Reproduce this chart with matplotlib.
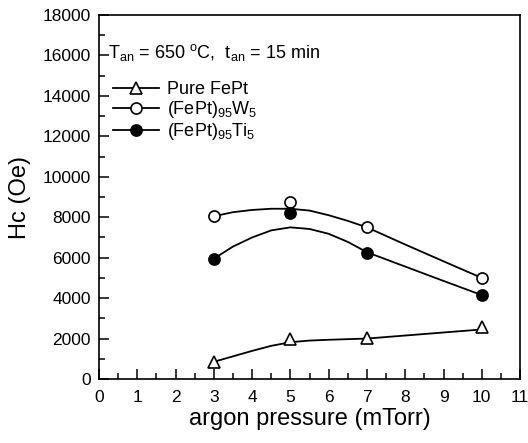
import matplotlib
matplotlib.use("Agg")
import matplotlib.pyplot as plt
from matplotlib.ticker import MultipleLocator

plt.rcParams["font.family"] = ["Liberation Sans", "DejaVu Sans"]
plt.rcParams["mathtext.fontset"] = "custom"
plt.rcParams["mathtext.rm"] = "Liberation Sans"
plt.rcParams["mathtext.it"] = "Liberation Sans"
plt.rcParams["mathtext.default"] = "regular"

# measured points
pressure = [3, 5, 7, 10]
hc_pure = [850, 2000, 2030, 2550]
hc_w5 = [8050, 8750, 7520, 5000]
hc_ti5 = [5950, 8230, 6230, 4150]

# guide curves
curve_x = [3, 3.5, 4, 4.5, 5, 5.5, 6, 6.5, 7, 8, 9, 10]
curve_pure = [850, 1120, 1390, 1640, 1820, 1900, 1940, 1970, 2000, 2150, 2300, 2450]
curve_w5 = [8050, 8250, 8360, 8420, 8420, 8330, 8100, 7820, 7500, 6650, 5820, 5000]
curve_ti5 = [5950, 6550, 7000, 7350, 7500, 7420, 7180, 6780, 6270, 5560, 4850, 4150]

labels = ["Pure FePt", r"(FePt)$_{95}$W$_5$", r"(FePt)$_{95}$Ti$_5$"]

fig = plt.figure(figsize=(5.28, 4.43), dpi=100)
ax = fig.add_axes([0.1875, 0.1445, 0.7975, 0.8215])

lw = 1.3
ax.plot(curve_x, curve_pure, color="black", lw=lw)
ax.plot(curve_x, curve_w5, color="black", lw=lw)
ax.plot(curve_x, curve_ti5, color="black", lw=lw)

mk = dict(linestyle="none", markeredgecolor="black", markeredgewidth=1.2, zorder=5)
ax.plot(pressure, hc_pure, marker="^", markersize=9, markerfacecolor="white", **mk)
ax.plot(pressure, hc_w5, marker="o", markersize=8, markerfacecolor="white", **mk)
ax.plot(pressure, hc_ti5, marker="o", markersize=8, markerfacecolor="black", **mk)

# legend handles: line through marker
h1, = ax.plot([], [], color="black", lw=lw, marker="^", markersize=9, markerfacecolor="white", markeredgewidth=1.2)
h2, = ax.plot([], [], color="black", lw=lw, marker="o", markersize=8, markerfacecolor="white", markeredgewidth=1.2)
h3, = ax.plot([], [], color="black", lw=lw, marker="o", markersize=8, markerfacecolor="black", markeredgewidth=1.2)
ax.legend([h1, h2, h3], labels, loc="upper left", bbox_to_anchor=(0.015, 0.838),
          frameon=False, fontsize=13, handlelength=2.6, handletextpad=0.4,
          labelspacing=0.05, borderaxespad=0)

ax.text(0.022, 0.897, r"T$_{an}$ = 650 $^{o}$C,  t$_{an}$ = 15 min",
        transform=ax.transAxes, fontsize=13, va="center", ha="left")

ax.set_xlim(0, 11)
ax.set_ylim(0, 18000)
ax.xaxis.set_major_locator(MultipleLocator(1))
ax.xaxis.set_minor_locator(MultipleLocator(0.5))
ax.yaxis.set_major_locator(MultipleLocator(2000))
ax.yaxis.set_minor_locator(MultipleLocator(1000))
ax.tick_params(which="both", direction="in", top=False, right=False, width=1.1)
ax.tick_params(which="major", length=7, labelsize=12.5)
ax.tick_params(axis="y", which="major", pad=6)
ax.tick_params(axis="x", which="major", pad=8)
ax.tick_params(which="minor", length=4)
for s in ax.spines.values():
    s.set_linewidth(1.2)

ax.set_xlabel("argon pressure (mTorr)", fontsize=17, labelpad=2)
ax.set_ylabel("Hc (Oe)", fontsize=17, labelpad=8)

fig.savefig("out.png", dpi=100)
